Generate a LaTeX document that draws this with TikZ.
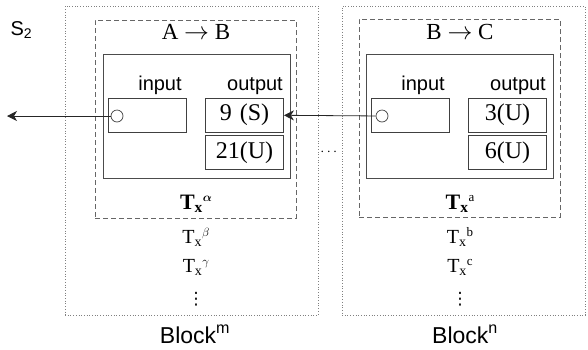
\documentclass[tikz,border=0pt]{standalone}
\usepackage{amsmath}
\usepackage{fontspec}
\setmainfont{Liberation Serif}
\setsansfont{Liberation Sans}
\newfontfamily\symfont{DejaVu Sans}
\usetikzlibrary{arrows.meta}
\newcommand{\txsup}[1]{T\textsubscript{x}\raisebox{0.75ex}{\fontsize{13}{13}\selectfont\mdseries #1}}
\begin{document}
\begin{tikzpicture}[x=1pt,y=-1pt,
  outerbox/.style={draw=black!50,dotted,line width=0.7pt,minimum height=309pt},
  dashbox/.style={draw=black!60,dash pattern=on 5pt off 3pt,line width=0.9pt,minimum width=201pt,minimum height=198pt},
  solidbox/.style={draw=black!70,line width=0.9pt,minimum width=187pt,minimum height=124pt},
  cell/.style={draw=black!75,line width=0.8pt,minimum width=78pt,minimum height=34pt,inner sep=0pt,font=\fontsize{24}{24}\selectfont},
  port/.style={draw=black!75,line width=0.7pt,circle,minimum size=12pt,inner sep=0pt},
  lbl/.style={font=\sffamily\fontsize{20}{20}\selectfont,anchor=base},
  ttl/.style={font=\fontsize{23}{23}\selectfont,anchor=base},
  tx/.style={font=\fontsize{20}{20}\selectfont,anchor=base},
  txb/.style={font=\bfseries\fontsize{22}{22}\selectfont,anchor=base},
  vd/.style={font=\symfont\fontsize{17}{17}\selectfont,inner sep=0pt},
  blk/.style={font=\sffamily\fontsize{23}{23}\selectfont,anchor=base},
  conn/.style={draw=black!85,line width=0.8pt,-{Stealth[length=10pt,width=10pt,inset=3pt]}}]
\useasboundingbox (0,0) rectangle (588,349);
% outer blocks
\node[outerbox,minimum width=253pt] (om) at (191.5,160.5) {};
\node[outerbox,minimum width=243pt] (on) at (463.5,160.5) {};
% dashed boxes
\node[dashbox] (dm) at (195.5,119) {};
\node[dashbox] (dn) at (459.5,118) {};
% solid boxes
\node[solidbox] (sm) at (196.5,116) {};
\node[solidbox] (sn) at (459.5,116) {};
% titles
\node[ttl] (tm) at (196,39) {A $\rightarrow$ B};
\node[ttl] (tn) at (460,39) {B $\rightarrow$ C};
% labels
\node[lbl] (im) at (160,90) {input};
\node[lbl] (outm) at (255,90) {output};
\node[lbl] (in) at (423,90) {input};
\node[lbl] (outn) at (518,90) {output};
% cells
\node[cell] (inm) at (147,115) {};
\node[cell] (o1m) at (244.5,115) {9\,\,(S)};
\node[cell] (o2m) at (244.5,152.5) {21(U)};
\node[cell] (inn) at (410.5,115) {};
\node[cell] (o1n) at (507.5,115) {3(U)};
\node[cell] (o2n) at (507.5,152.5) {6(U)};
% ports
\node[port] (pm) at (117,116) {};
\node[port] (pn) at (382,116) {};
\coordinate (out) at (7,116);
\draw[conn] (pm) -- (out);
\draw[conn] (pn) -- (o1m);
% T lists
\node[txb] (ta) at (196,209) {T\textsubscript{x}\raisebox{0.75ex}{\fontsize{13}{13}\selectfont$\boldsymbol{\alpha}$}};
\node[tx] (tb) at (196,243) {\txsup{$\beta$}};
\node[tx] (tg) at (196,272) {\txsup{$\gamma$}};
\node[vd] (tdm) at (196,299) {⋮};
\node[txb] (ta2) at (460,209) {\txsup{a}};
\node[tx] (tb2) at (460,243) {\txsup{b}};
\node[tx] (tc2) at (460,272) {\txsup{c}};
\node[vd] (tdn) at (460,299) {⋮};
% block names
\node[blk] (bm) at (195,343) {Block\textsuperscript{m}};
\node[blk] (bn) at (465,343) {Block\textsuperscript{n}};
\node[font=\sffamily\fontsize{20}{20}\selectfont,anchor=base west] (s2) at (7,35) {S\textsubscript{2}};
\node[font=\fontsize{14}{14}\selectfont] (dots) at (330,152) {$\cdots$};
\end{tikzpicture}
\end{document}
